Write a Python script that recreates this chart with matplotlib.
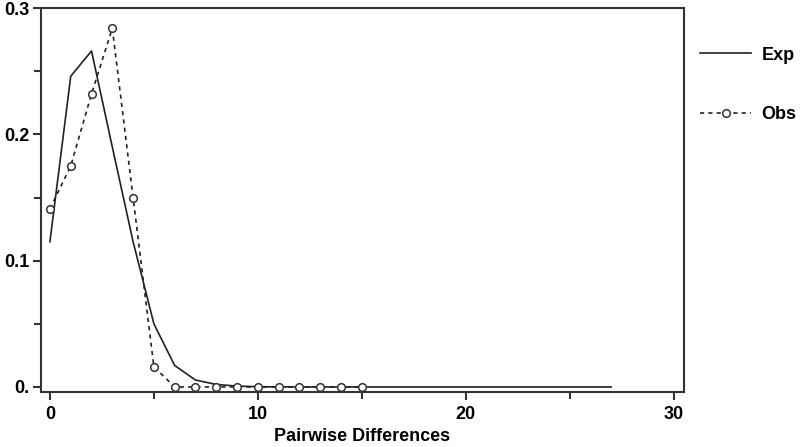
import numpy as np
import matplotlib
matplotlib.use("Agg")
import matplotlib.pyplot as plt

# Mismatch distribution: expected vs observed frequencies
exp_x = list(range(0, 28))
exp_y = [0.115, 0.246, 0.266, 0.19, 0.115, 0.05, 0.017, 0.0055, 0.002, 0.0007,
         0.0002, 0.0001] + [0.0] * 16
obs_x = list(range(0, 16))
obs_y = [0.141, 0.175, 0.232, 0.284, 0.150, 0.016] + [0.0] * 10

x_ticks = [0, 10, 20, 30]
y_ticks = [0.0, 0.1, 0.2, 0.3]
y_ticklabels = ["0.", "0.1", "0.2", "0.3"]

plt.rcParams['font.family'] = ['Liberation Sans', 'DejaVu Sans']
plt.rcParams['font.weight'] = 'bold'

fig = plt.figure(figsize=(8, 4.47), dpi=100)
ax = fig.add_axes([0.05125, 0.123, 0.80375, 0.859])

ax.plot(exp_x, exp_y, color='#222222', linewidth=1.2, label='Exp')
ax.plot(obs_x, obs_y, color='#222222', linewidth=1.2, linestyle=(0, (2.5, 2.5)),
        marker='o', markersize=5.5, markerfacecolor='white', markeredgecolor='#333333',
        markeredgewidth=1.1, label='Obs')

ax.set_xlim(-0.43, 30.5)
ax.set_ylim(-0.004, 0.3)
ax.set_xticks(x_ticks)
ax.set_xticks([5, 15, 25], minor=True)
ax.set_yticks(y_ticks)
ax.set_yticklabels(y_ticklabels)
ax.set_yticks([0.05, 0.15, 0.25], minor=True)

for s in ax.spines.values():
    s.set_linewidth(1.5)
    s.set_color('#333333')

ax.tick_params(axis='both', which='major', direction='out', length=6, width=1.5,
               labelsize=13, colors='#333333', labelcolor='black')
ax.tick_params(axis='both', which='minor', direction='out', length=5, width=1.5,
               colors='#333333')
ax.tick_params(axis='y', pad=2)
ax.tick_params(axis='x', pad=4)

ax.set_xlabel('Pairwise Differences', fontsize=13, fontweight='bold', labelpad=4)

ax.legend(loc='upper left', bbox_to_anchor=(1.0, 0.942), frameon=False,
          fontsize=13, handlelength=2.8, labelspacing=2.35, handletextpad=0.6,
          numpoints=1)

plt.savefig("out.png", dpi=100)
